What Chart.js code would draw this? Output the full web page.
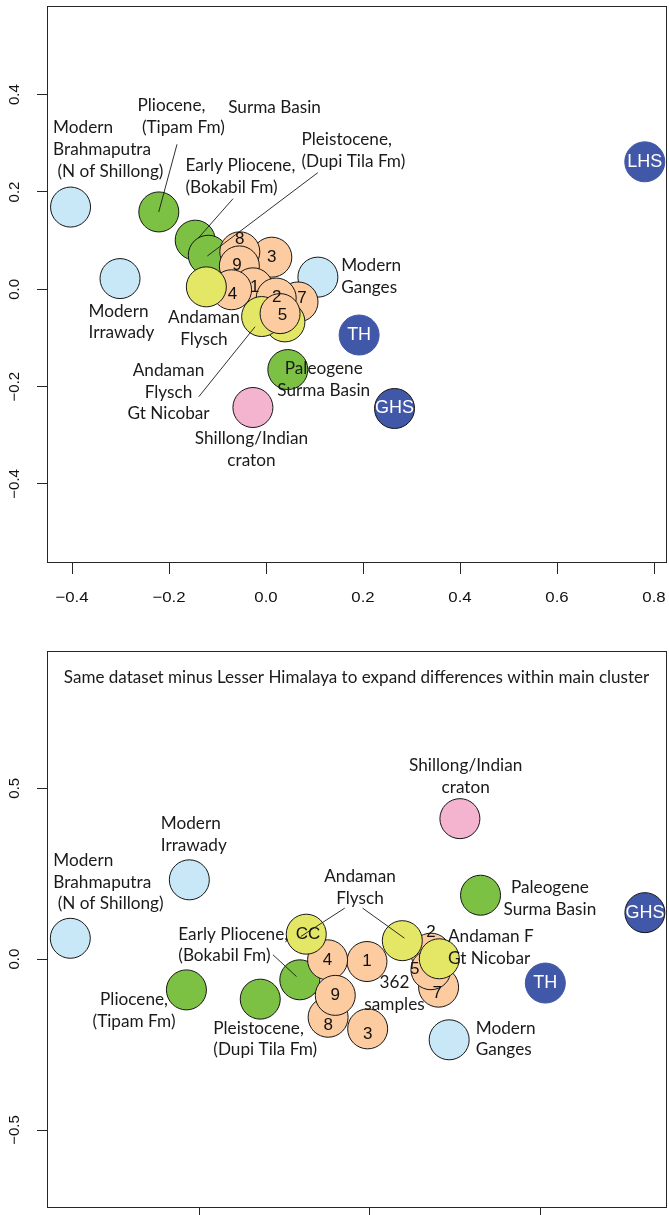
<!DOCTYPE html>
<html><head><meta charset="utf-8">
<script src="https://cdn.jsdelivr.net/npm/chart.js@4.4.1/dist/chart.umd.min.js"></script>
<style>
html,body{margin:0;padding:0;background:#fff;}
#wrap{position:relative;width:669px;height:1215px;overflow:hidden;background:#fff;}
#c1{position:absolute;left:0;top:0;}
#c2{position:absolute;left:0;top:620px;}
</style></head><body>
<div id="wrap"><canvas id="c1" width="669" height="620"></canvas><canvas id="c2" width="669" height="595"></canvas></div>
<script>
// ---------------- DATA: top panel ----------------
const topXTicks = [-0.4, -0.2, 0, 0.2, 0.4, 0.6, 0.8];
const topYTicks = [-0.4, -0.2, 0, 0.2, 0.4];
const topNames = ['LHS','TH','GHS','Modern Brahmaputra','Modern Irrawady','Modern Ganges','Shillong/Indian craton',
  'Paleogene Surma Basin','Pliocene (Tipam Fm)','Early Pliocene (Bokabil Fm)','Pleistocene (Dupi Tila Fm)',
  'Sample 3','Sample 8','Sample 9','Sample 1','Sample 4','Andaman Flysch','Sample 7','Sample 2',
  'Andaman Flysch CC','Andaman Flysch Gt Nicobar','Sample 5'];
const topGroups = ['himalaya','himalaya','himalaya','modern','modern','modern','craton',
  'surma','surma','surma','surma',
  'sample','sample','sample','sample','sample','andaman','sample','sample',
  'andaman','andaman','sample'];
const topX = [0.781, 0.192, 0.265, -0.403, -0.301, 0.107, -0.027,
  0.045, -0.221, -0.146, -0.119,
  0.012, -0.054, -0.055, -0.027, -0.071, -0.123, 0.066, 0.021,
  0.039, -0.009, 0.029];
const topY = [0.262, -0.094, -0.245, 0.169, 0.022, 0.025, -0.243,
  -0.165, 0.159, 0.101, 0.070,
  0.066, 0.077, 0.048, 0.003, -0.001, 0.005, -0.026, -0.018,
  -0.067, -0.056, -0.050];
const topTagText = ['LHS','TH','GHS','8','3','9','4','1','2','7','5'];
const topTagX = [0.781, 0.192, 0.265, -0.054, 0.012, -0.060, -0.069, -0.023, 0.022, 0.074, 0.034];
const topTagY = [0.262, -0.094, -0.245, 0.103, 0.066, 0.050, -0.010, 0.004, -0.016, -0.019, -0.054];
const topNoteLines = [['Modern','Brahmaputra',' (N of Shillong)'], ['Pliocene,',' (Tipam Fm)'], ['Surma Basin'],
  ['Early Pliocene,','(Bokabil Fm)'], ['Pleistocene,','(Dupi Tila Fm)'], ['Modern','Ganges'], ['Modern','Irrawady'],
  ['Andaman','Flysch'], ['Andaman','Flysch','Gt Nicobar'], ['Paleogene','Surma Basin'], ['Shillong/Indian','craton']];
const topNoteX = [-0.439, -0.265, -0.078, -0.166, 0.073, 0.155, -0.366, -0.128, -0.201, 0.119, -0.030];
const topNoteY = [0.332, 0.377, 0.373, 0.255, 0.308, 0.0485, -0.0446, -0.0584, -0.1665, -0.1624, -0.307];
const topNoteAlign = ['left','left','left','left','left','left','left','center','center','center','center'];
const topLeaders = [[-0.1835, 0.298, -0.2212, 0.1589], [-0.068, 0.1862, -0.1394, 0.1055],
  [0.1068, 0.2397, -0.121, 0.0684], [-0.1386, -0.2208, -0.0225, -0.0769]];

// ---------------- DATA: bottom panel ----------------
const botXTicks = [-0.5, 0, 0.5];
const botYTicks = [-0.5, 0, 0.5];
const botNames = ['Modern Ganges','TH','GHS','Modern Brahmaputra','Modern Irrawady','Shillong/Indian craton',
  'Paleogene Surma Basin','Pliocene (Tipam Fm)','Pleistocene (Dupi Tila Fm)','Early Pliocene (Bokabil Fm)',
  'Sample 8','Sample 3','Sample 1','Sample 4','Sample 9','Sample 2','Sample 7','Sample 5',
  'Andaman Flysch','Andaman Flysch CC','Andaman Flysch Gt Nicobar'];
const botGroups = ['modern','himalaya','himalaya','modern','modern','craton',
  'surma','surma','surma','surma',
  'sample','sample','sample','sample','sample','sample','sample','sample',
  'andaman','andaman','andaman'];
const botX = [0.233, 0.515, 0.807, -0.878, -0.529, 0.2645,
  0.325, -0.5375, -0.321, -0.205,
  -0.122, -0.006, -0.008, -0.1235, -0.101, 0.1795, 0.202, 0.1795,
  0.0956, -0.186, 0.204];
const botY = [-0.236, -0.070, 0.136, 0.061, 0.232, 0.411,
  0.187, -0.090, -0.117, -0.0605,
  -0.170, -0.204, -0.007, -0.002, -0.106, 0.0175, -0.082, -0.031,
  0.054, 0.073, 0.001];
const botTagText = ['TH','GHS','CC','4','1','9','8','3','2','5','7'];
const botTagX = [0.515, 0.807, -0.181, -0.1235, -0.008, -0.101, -0.122, -0.006, 0.1795, 0.132, 0.198];
const botTagY = [-0.070, 0.136, 0.073, -0.002, -0.007, -0.106, -0.194, -0.221, 0.078, -0.031, -0.099];
const botNoteLines = [['Shillong/Indian','craton'], ['Modern','Irrawady'], ['Modern','Brahmaputra',' (N of Shillong)'],
  ['Andaman','Flysch'], ['Paleogene','Surma Basin'], ['Early Pliocene,','(Bokabil Fm)'], ['Andaman F','Gt Nicobar'],
  ['362','samples'], ['Pliocene,','(Tipam Fm)'], ['Pleistocene,','(Dupi Tila Fm)'], ['Modern','Ganges']];
const botNoteX = [0.2815, -0.6126, -0.9279, -0.0284, 0.5284, -0.5613, 0.2296, 0.0727, -0.6912, -0.4587, 0.3109];
const botNoteY = [0.566, 0.3977, 0.2895, 0.2415, 0.2105, 0.0731, 0.0661, -0.0684, -0.119, -0.2018, -0.2018];
const botNoteAlign = ['center','left','left','center','center','left','left','center','center','left','left'];
const botLeaders = [[-0.0733, 0.1491, -0.2021, 0.0661], [-0.0208, 0.1491, 0.1018, 0.0614],
  [-0.2836, 0.0126, -0.2147, -0.0509]];
const botTitle = 'Same dataset minus Lesser Himalaya to expand differences within main cluster';

// ---------------- STYLE ----------------
const FILL = {himalaya:'#4157a7', modern:'#c8e8f8', craton:'#f4b4d0', surma:'#7cc143', sample:'#fccb9f', andaman:'#e4e765'};
const INK = '#1a1a1a';
const ANN_FAMILY = 'Lato, "Open Sans", sans-serif';
const AX_FAMILY = '"Liberation Sans", Arial, Helvetica, sans-serif';
const LINE_STEP = 21.8;

function fitSize(family, text, target, base) {
  const c = document.createElement('canvas').getContext('2d');
  c.font = base + 'px ' + family;
  return base * target / c.measureText(text).width;
}
const annSize = fitSize(ANN_FAMILY, 'Brahmaputra', 98, 17);
const titleSize = fitSize(ANN_FAMILY, botTitle, 586, 15);

function fmt(v) { return (v < 0 ? '\u2212' : '') + Math.abs(v).toFixed(1); }

function makeDecor(cfg) {
  return {
    id: 'decor',
    afterDatasetsDraw(chart) {
      const ctx = chart.ctx, ca = chart.chartArea;
      const xs = chart.scales.x, ys = chart.scales.y;
      ctx.save();
      // plot box
      ctx.strokeStyle = '#262626'; ctx.lineWidth = 1;
      ctx.strokeRect(Math.round(ca.left) - 0.5, Math.round(ca.top) + 0.5,
        Math.round(ca.right - ca.left), Math.round(ca.bottom - ca.top) - 1);
      // leader lines
      ctx.strokeStyle = INK; ctx.lineWidth = 0.9;
      cfg.leaders.forEach(l => {
        ctx.beginPath();
        ctx.moveTo(xs.getPixelForValue(l[0]), ys.getPixelForValue(l[1]));
        ctx.lineTo(xs.getPixelForValue(l[2]), ys.getPixelForValue(l[3]));
        ctx.stroke();
      });
      // tags inside circles
      ctx.textBaseline = 'middle'; ctx.textAlign = 'center';
      cfg.tagText.forEach((t, i) => {
        const white = (t === 'LHS' || t === 'TH' || t === 'GHS');
        ctx.fillStyle = white ? '#ffffff' : '#111';
        ctx.font = (white ? '18px ' : '17px ') + AX_FAMILY;
        ctx.fillText(t, xs.getPixelForValue(cfg.tagX[i]), ys.getPixelForValue(cfg.tagY[i]));
      });
      // annotations
      ctx.fillStyle = INK;
      ctx.font = annSize.toFixed(2) + 'px ' + ANN_FAMILY;
      cfg.noteLines.forEach((lines, i) => {
        ctx.textAlign = cfg.noteAlign[i];
        const px = xs.getPixelForValue(cfg.noteX[i]);
        const py = ys.getPixelForValue(cfg.noteY[i]);
        lines.forEach((s, k) => ctx.fillText(s, px, py + k * LINE_STEP));
      });
      if (cfg.title) {
        ctx.textAlign = 'center';
        ctx.font = titleSize.toFixed(2) + 'px ' + ANN_FAMILY;
        ctx.fillText(cfg.title, (ca.left + ca.right) / 2 - 1, ca.top + 26);
      }
      // tick labels
      ctx.fillStyle = '#111';
      ctx.font = '15px ' + AX_FAMILY;
      ctx.textAlign = 'center'; ctx.textBaseline = 'middle';
      if (cfg.xLabelY !== null) {
        cfg.xTicks.forEach(v => {
          ctx.save();
          ctx.translate(xs.getPixelForValue(v), cfg.xLabelY);
          ctx.scale(1.12, 1);
          ctx.fillText(fmt(v), 0, 0);
          ctx.restore();
        });
      }
      cfg.yTicks.forEach(v => {
        ctx.save();
        ctx.translate(15, ys.getPixelForValue(v));
        ctx.rotate(-Math.PI / 2);
        ctx.fillText(fmt(v), 0, 0);
        ctx.restore();
      });
      ctx.restore();
    }
  };
}

function makeChart(id, cfg) {
  const pts = cfg.x.map((x, i) => ({x: x, y: cfg.y[i]}));
  const fills = cfg.groups.map(g => FILL[g]);
  const borders = cfg.groups.map((g, i) => (g === 'himalaya' && cfg.names[i] !== 'GHS') ? FILL[g] : '#151515');
  return new Chart(document.getElementById(id), {
    type: 'scatter',
    data: {datasets: [{label: 'samples', data: pts, pointRadius: 20, pointHoverRadius: 20,
      pointBackgroundColor: fills, pointBorderColor: borders, pointBorderWidth: 1, clip: false}]},
    options: {
      responsive: false, animation: false, devicePixelRatio: 1, events: [],
      layout: {padding: cfg.padding, autoPadding: false},
      plugins: {legend: {display: false}, tooltip: {enabled: false}},
      scales: {
        x: {type: 'linear', position: 'bottom', min: cfg.xMin, max: cfg.xMax,
          afterBuildTicks: s => { s.ticks = cfg.xTicks.map(v => ({value: v})); },
          afterFit: s => { s.height = cfg.xAxisH; },
          ticks: {display: false},
          grid: {drawOnChartArea: false, drawTicks: true, tickLength: 11, color: '#262626', lineWidth: 1},
          border: {display: false}},
        y: {type: 'linear', position: 'left', min: cfg.yMin, max: cfg.yMax,
          afterBuildTicks: s => { s.ticks = cfg.yTicks.map(v => ({value: v})); },
          afterFit: s => { s.width = 48; },
          ticks: {display: false},
          grid: {drawOnChartArea: false, drawTicks: true, tickLength: 11, color: '#262626', lineWidth: 1},
          border: {display: false}}
      }
    },
    plugins: [makeDecor(cfg)]
  });
}

makeChart('c1', {
  names: topNames, groups: topGroups, x: topX, y: topY,
  tagText: topTagText, tagX: topTagX, tagY: topTagY,
  noteLines: topNoteLines, noteX: topNoteX, noteY: topNoteY, noteAlign: topNoteAlign,
  leaders: topLeaders, title: null,
  xTicks: topXTicks, yTicks: topYTicks,
  xMin: -0.4495, xMax: 0.8268, yMin: -0.5626, yMax: 0.5823,
  padding: {top: 6, left: 0, right: 2, bottom: 0}, xAxisH: 57, xLabelY: 598
});
makeChart('c2', {
  names: botNames, groups: botGroups, x: botX, y: botY,
  tagText: botTagText, tagX: botTagX, tagY: botTagY,
  noteLines: botNoteLines, noteX: botNoteX, noteY: botNoteY, noteAlign: botNoteAlign,
  leaders: botLeaders, title: botTitle,
  xTicks: botXTicks, yTicks: botYTicks,
  xMin: -0.9434, xMax: 0.8718, yMin: -0.7281, yMax: 0.9015,
  padding: {top: 31, left: 0, right: 2, bottom: 0}, xAxisH: 7, xLabelY: null
});
</script>
</body></html>
